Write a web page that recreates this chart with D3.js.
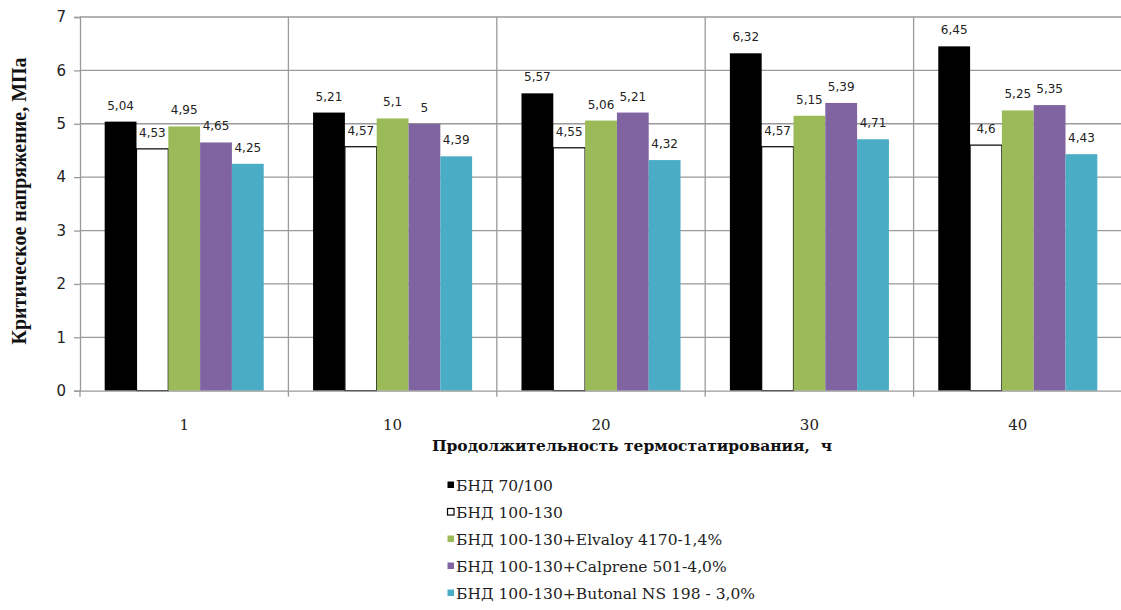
<!DOCTYPE html>
<html><head><meta charset="utf-8">
<script src="https://cdn.jsdelivr.net/npm/d3@7"></script>
<style>body{margin:0;background:#fff}svg{display:block}text{white-space:pre}</style>
</head><body>
<svg id="c" width="1121" height="610"></svg>
<script>
const categories = ["1", "10", "20", "30", "40"];
const seriesNames = [
  "БНД 70/100",
  "БНД 100-130",
  "БНД 100-130+Elvaloy 4170-1,4%",
  "БНД 100-130+Calprene 501-4,0%",
  "БНД 100-130+Butonal NS 198 - 3,0%"
];
const s1 = [5.04, 5.21, 5.57, 6.32, 6.45];
const s2 = [4.53, 4.57, 4.55, 4.57, 4.6];
const s3 = [4.95, 5.1, 5.06, 5.15, 5.25];
const s4 = [4.65, 5, 5.21, 5.39, 5.35];
const s5 = [4.25, 4.39, 4.32, 4.71, 4.43];
const seriesValues = [s1, s2, s3, s4, s5];
const yTicks = [0, 1, 2, 3, 4, 5, 6, 7];
const fills = ["#000000", "#ffffff", "#9bbb59", "#8064a2", "#4bacc6"];
const xTitle = "Продолжительность термостатирования,  ч";
const yTitle = "Критическое напряжение, МПа";

const svg = d3.select("#c");
const L = 80, R = 1122, T = 17, B = 390.7;
const grid = "#9a9a9a";

const x0 = d3.scaleBand().domain(categories).range([L, R]).paddingInner(0).paddingOuter(0);
const x1 = d3.scaleBand().domain(d3.range(seriesNames.length)).range([0, x0.bandwidth()]).paddingInner(0).paddingOuter(0.776);
const y = d3.scaleLinear().domain([0, 7]).range([B, T]);

// horizontal gridlines
svg.append("g").selectAll("line").data(yTicks.filter(d => d > 0)).join("line")
  .attr("x1", L).attr("x2", R).attr("y1", d => y(d)).attr("y2", d => y(d))
  .attr("stroke", grid).attr("stroke-width", 1.3);
// vertical gridlines at category boundaries
svg.append("g").selectAll("line").data(categories.slice(1)).join("line")
  .attr("x1", d => x0(d)).attr("x2", d => x0(d)).attr("y1", T).attr("y2", B)
  .attr("stroke", grid).attr("stroke-width", 1.3);

// bars
const groups = svg.append("g").selectAll("g").data(categories).join("g")
  .attr("transform", d => `translate(${x0(d)},0)`);
groups.each(function(cat, ci) {
  const g = d3.select(this);
  seriesValues.forEach((vals, si) => {
    const v = vals[ci];
    g.append("rect")
      .attr("x", x1(si)).attr("width", x1.bandwidth())
      .attr("y", y(v)).attr("height", y(0) - y(v))
      .attr("fill", fills[si])
      .attr("stroke", si === 1 ? "#000" : "none")
      .attr("stroke-width", si === 1 ? 1.2 : 0);
  });
});

// axes
const yAxis = d3.axisLeft(y).tickValues(yTicks).tickSize(6).tickPadding(8).tickFormat(d3.format("d"));
const gy = svg.append("g").attr("transform", `translate(${L},0)`).call(yAxis);
gy.select(".domain").attr("stroke", grid).attr("stroke-width", 1.3);
gy.selectAll(".tick line").attr("stroke", grid).attr("stroke-width", 1.3);
gy.selectAll(".tick text").attr("font-family", "DejaVu Sans, sans-serif").attr("font-size", 15).attr("fill", "#222");

const xAxis = d3.axisBottom(x0).tickSize(0).tickPadding(29);
const gx = svg.append("g").attr("transform", `translate(0,${B})`).call(xAxis);
gx.select(".domain").attr("stroke", grid).attr("stroke-width", 1.3);
gx.selectAll(".tick text").attr("font-family", "DejaVu Serif, serif").attr("font-size", 15).attr("fill", "#222");
// boundary tick marks
gx.append("g").selectAll("line").data(categories).join("line")
  .attr("x1", d => x0(d)).attr("x2", d => x0(d)).attr("y1", 0).attr("y2", 6)
  .attr("stroke", grid).attr("stroke-width", 1.3);

// data labels
const fmt = v => String(v).replace(".", ",");
groups.each(function(cat, ci) {
  const g = d3.select(this);
  seriesValues.forEach((vals, si) => {
    const v = vals[ci];
    g.append("text")
      .attr("x", x1(si) + x1.bandwidth() / 2)
      .attr("y", y(v) - 12)
      .attr("text-anchor", "middle")
      .attr("font-family", "DejaVu Sans, sans-serif")
      .attr("font-size", 12)
      .attr("fill", "#222")
      .text(fmt(v));
  });
});

// axis titles
svg.append("text").attr("x", 632).attr("y", 451).attr("text-anchor", "middle")
  .attr("font-family", "DejaVu Serif, serif").attr("font-weight", "bold").attr("font-size", 15.5)
  .attr("fill", "#111").text(xTitle);
svg.append("text").attr("transform", "translate(26,201) rotate(-90)").attr("text-anchor", "middle")
  .attr("font-family", "Liberation Serif, serif").attr("font-weight", "bold").attr("font-size", 20)
  .attr("fill", "#111").text(yTitle);

// legend
const lg = svg.append("g").selectAll("g").data(seriesNames).join("g")
  .attr("transform", (d, i) => `translate(447,${485 + i * 27})`);
lg.append("rect").attr("x", 0.5).attr("y", -3.5).attr("width", 6.5).attr("height", 6.5)
  .attr("fill", (d, i) => fills[i]).attr("stroke", (d, i) => i === 1 ? "#000" : "none").attr("stroke-width", 1.2);
lg.append("text").attr("x", 9).attr("y", 5.5)
  .attr("font-family", "DejaVu Serif, serif").attr("font-size", 15.5).attr("fill", "#222")
  .text(d => d);
</script>
</body></html>
